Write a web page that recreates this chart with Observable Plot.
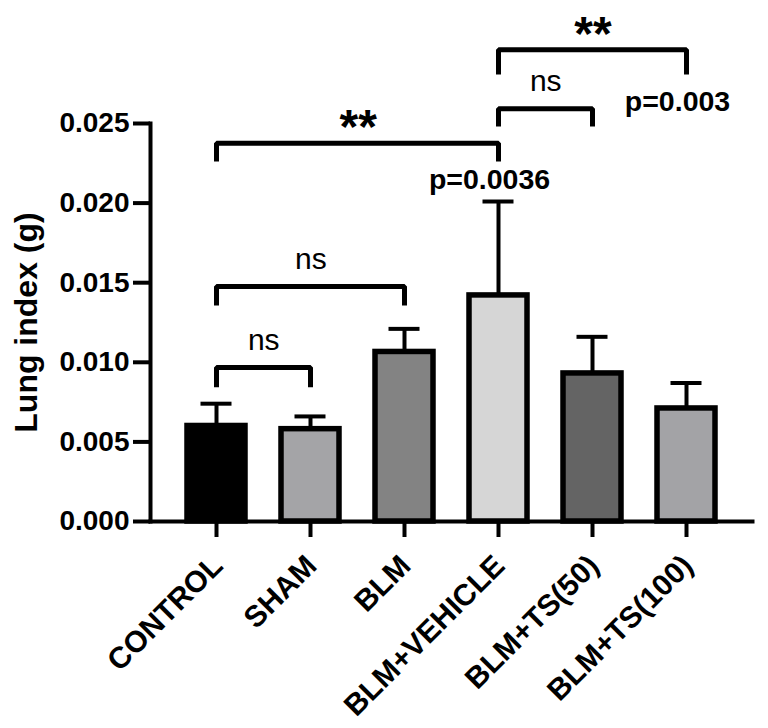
<!DOCTYPE html>
<html>
<head>
<meta charset="utf-8">
<script src="https://cdn.jsdelivr.net/npm/d3@7"></script>
<script src="https://cdn.jsdelivr.net/npm/@observablehq/plot@0.6"></script>
<style>
  body { margin: 0; background: #fff; }
  svg { display: block; }
</style>
</head>
<body>
<div id="chart"></div>
<script>
// Lung index per treatment group: mean and upper error (SD)
const groups = ["CONTROL", "SHAM", "BLM", "BLM+VEHICLE", "BLM+TS(50)", "BLM+TS(100)"];
const means  = [0.0060, 0.0058, 0.01065, 0.0142, 0.0093, 0.0071];
const errors = [0.0014, 0.0008, 0.00145, 0.0059, 0.0023, 0.0016];
const fills  = ["#000000", "#a4a4a7", "#838383", "#d6d6d6", "#646464", "#a3a3a6"];
const yTicks = [0, 0.005, 0.010, 0.015, 0.020, 0.025];

// Significance brackets between pairs of groups
const bracketFrom  = ["CONTROL", "CONTROL", "CONTROL", "BLM+VEHICLE", "BLM+VEHICLE"];
const bracketTo    = ["SHAM", "BLM", "BLM+VEHICLE", "BLM+TS(50)", "BLM+TS(100)"];
const bracketLevel = [0.00967, 0.01476, 0.02376, 0.02592, 0.02963];
const bracketFoot  = [0.00844, 0.01357, 0.02261, 0.02481, 0.02808];
const bracketText  = ["ns", "ns", "**", "ns", "**"];

// Exact p-values printed next to the significant comparisons
const pGroup = ["BLM+VEHICLE", "BLM+TS(100)"];
const pLevel = [0.0209, 0.0258];
const pText  = ["p=0.0036", "p=0.003"];

const W = 768, H = 728;
const margin = {left: 150, right: 16, top: 123, bottom: 207};
const xOptions = {
  domain: groups,
  range: [margin.left, W - margin.right],
  paddingInner: 0.386,
  paddingOuter: 0.38
};
const xs = Plot.scale({x: {type: "band", ...xOptions}});
const center = (g) => xs.apply(g) + xs.bandwidth / 2;

const rows = groups.map((g, i) => ({group: g, mean: means[i], upper: means[i] + errors[i]}));

const bracketPoints = bracketFrom.flatMap((a, i) => [
  {k: i, x: a, y: bracketFoot[i]},
  {k: i, x: a, y: bracketLevel[i]},
  {k: i, x: bracketTo[i], y: bracketLevel[i]},
  {k: i, x: bracketTo[i], y: bracketFoot[i]}
]);

const bracketLabels = bracketText.map((t, i) => {
  const star = t !== "ns";
  return Plot.text([t], {
    x: [bracketFrom[i]],
    y: [bracketLevel[i]],
    text: (d) => d,
    dx: (center(bracketTo[i]) - center(bracketFrom[i])) / 2,
    dy: star ? 0 : -18,
    lineAnchor: "bottom",
    textAnchor: "middle",
    fontSize: star ? 48 : 30,
    fontWeight: star ? "bold" : "normal"
  });
});

const chart = Plot.plot({
  width: W,
  height: H,
  marginLeft: margin.left,
  marginRight: margin.right,
  marginTop: margin.top,
  marginBottom: margin.bottom,
  style: {fontFamily: "'Liberation Sans', Arial, Helvetica, sans-serif", fontSize: "28px", fontWeight: "bold", color: "#000", background: "#fff"},
  x: {type: "band", ...xOptions},
  y: {domain: [0, 0.025]},
  color: {domain: groups, range: fills},
  marks: [
    // error bars (upper half only)
    Plot.ruleX(rows, {x: "group", y1: "mean", y2: "upper", stroke: "#000", strokeWidth: 4}),
    Plot.tickY(rows, {x: "group", y: "upper", stroke: "#000", strokeWidth: 4, insetLeft: 13.5, insetRight: 13.5}),
    // bars
    Plot.barY(rows, {x: "group", y: "mean", fill: "group", stroke: "#000", strokeWidth: 5.5}),
    // comparison brackets
    Plot.line(bracketPoints, {x: "x", y: "y", z: "k", stroke: "#000", strokeWidth: 5, strokeLinejoin: "miter", strokeLinecap: "butt"}),
    ...bracketLabels,
    Plot.text(pText, {x: pGroup, y: pLevel, text: (d) => d, dx: -9, lineAnchor: "bottom", textAnchor: "middle", fontSize: 28.5, fontWeight: "bold"}),
    // axes
    Plot.frame({anchor: "left", stroke: "#000", strokeWidth: 4}),
    Plot.frame({anchor: "bottom", stroke: "#000", strokeWidth: 4}),
    Plot.axisY({ticks: yTicks, tickFormat: d3.format(".3f"), tickSize: 17, tickPadding: 4, strokeWidth: 4, label: null}),
    Plot.axisX({tickSize: 16, strokeWidth: 4, tickFormat: () => "", label: null}),
    Plot.text(groups, {x: (d) => d, text: (d) => d, frameAnchor: "bottom", rotate: -45, textAnchor: "end", lineAnchor: "bottom", dx: 8, dy: 46, fontSize: 30, fontWeight: "bold"}),
    Plot.text(["Lung index (g)"], {text: (d) => d, frameAnchor: "left", rotate: -90, dx: -114, lineAnchor: "bottom", textAnchor: "middle", fontSize: 32, fontWeight: "bold"})
  ]
});

document.getElementById("chart").appendChild(chart);
</script>
</body>
</html>
